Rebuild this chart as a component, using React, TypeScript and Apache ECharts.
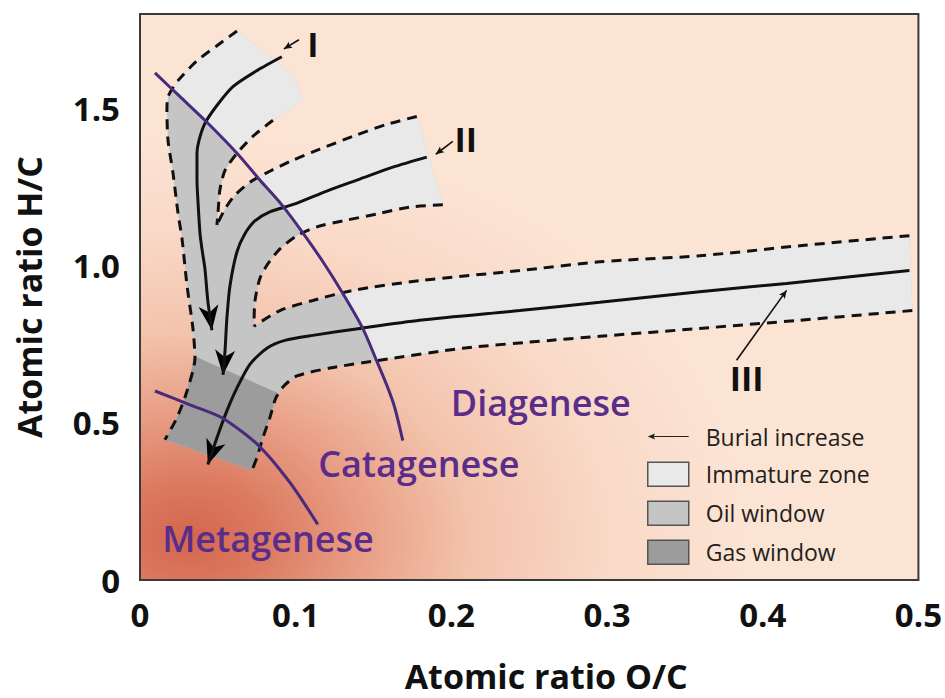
import React, { useEffect, useRef } from 'react';
import * as echarts from 'echarts';

type Pt = [number, number];

// ---------- axis ----------
const X_MIN = 0;
const X_MAX = 0.5;
const Y_MIN = 0;
const Y_MAX = 1.8;
const X_TICKS = [0, 0.1, 0.2, 0.3, 0.4, 0.5];
const Y_TICKS = [0, 0.5, 1.0, 1.5];

// ---------- evolution paths (centre lines, O/C vs H/C) ----------
const I_CENTER: Pt[] = [
  [0.0911, 1.664], [0.0751, 1.620], [0.0597, 1.569], [0.0494, 1.509], [0.0417, 1.452],
  [0.0379, 1.398], [0.0366, 1.357], [0.0366, 1.272], [0.0372, 1.208], [0.0385, 1.104],
  [0.0398, 1.053], [0.0417, 0.990], [0.0436, 0.886], [0.0462, 0.794],
];
const II_CENTER: Pt[] = [
  [0.1842, 1.345], [0.1624, 1.313], [0.1412, 1.275], [0.1200, 1.237], [0.0995, 1.196],
  [0.0834, 1.171], [0.0738, 1.142], [0.0674, 1.101], [0.0623, 1.044], [0.0578, 0.936],
  [0.0558, 0.832], [0.0546, 0.728], [0.0533, 0.652],
];
const III_CENTER: Pt[] = [
  [0.4942, 0.984], [0.4153, 0.943], [0.3594, 0.917], [0.2953, 0.883], [0.2439, 0.857],
  [0.1797, 0.826], [0.1412, 0.800], [0.1110, 0.778], [0.0931, 0.762], [0.0815, 0.737],
  [0.0706, 0.686], [0.0623, 0.611], [0.0558, 0.538], [0.0501, 0.462], [0.0436, 0.367],
];

// ---------- band borders (dashed) ----------
const I_OUTER: Pt[] = [
  [0.0623, 1.746], [0.0494, 1.699], [0.0366, 1.651], [0.0244, 1.588], [0.0180, 1.537],
  [0.0173, 1.493], [0.0180, 1.398], [0.0212, 1.294], [0.0244, 1.167], [0.0270, 1.085],
  [0.0302, 0.936], [0.0340, 0.800], [0.0353, 0.705], [0.0302, 0.601], [0.0237, 0.516],
  [0.0160, 0.446],
];
const I_INNER: Pt[] = [
  [0.0854, 1.462], [0.0725, 1.411], [0.0623, 1.357], [0.0546, 1.303], [0.0513, 1.240],
  [0.0501, 1.167], [0.0494, 1.129],
];
const I_CAP: Pt[] = [[0.1046, 1.525], [0.0982, 1.610]];
const II_UPPER: Pt[] = [
  [0.1778, 1.474], [0.1585, 1.449], [0.1367, 1.411], [0.1155, 1.370], [0.0982, 1.335],
  [0.0834, 1.300], [0.0706, 1.265], [0.0610, 1.224], [0.0546, 1.180], [0.0494, 1.129],
];
const II_LOWER: Pt[] = [
  [0.1945, 1.193], [0.1733, 1.186], [0.1521, 1.164], [0.1303, 1.142], [0.1136, 1.123],
  [0.1008, 1.095], [0.0899, 1.053], [0.0822, 1.006], [0.0770, 0.959], [0.0738, 0.886],
  [0.0732, 0.807],
];
const III_UPPER: Pt[] = [
  [0.4942, 1.095], [0.4236, 1.063], [0.3594, 1.031], [0.2953, 1.012], [0.2439, 0.984],
  [0.1797, 0.952], [0.1367, 0.921], [0.1110, 0.889], [0.0899, 0.857], [0.0732, 0.807],
];
const III_LOWER: Pt[] = [
  [0.4961, 0.857], [0.4236, 0.826], [0.3594, 0.800], [0.2953, 0.775], [0.2632, 0.762],
  [0.2073, 0.737], [0.1540, 0.699], [0.1220, 0.674], [0.1008, 0.649], [0.0924, 0.617],
  [0.0873, 0.579], [0.0834, 0.516], [0.0789, 0.452], [0.0751, 0.389], [0.0719, 0.348],
];

// ---------- maturity zones ----------
const IMMATURE_I: Pt[] = [
  [0.0623, 1.746], [0.0494, 1.699], [0.0366, 1.651], [0.0244, 1.588], [0.0212, 1.563],
  [0.0417, 1.462], [0.0623, 1.357], [0.0725, 1.411], [0.0854, 1.462], [0.1046, 1.525],
  [0.0982, 1.610],
];
const IMMATURE_II: Pt[] = [
  [0.1778, 1.474], [0.1585, 1.449], [0.1367, 1.411], [0.1155, 1.370], [0.0982, 1.335],
  [0.0834, 1.300], [0.0764, 1.281], [0.0911, 1.193], [0.1040, 1.107], [0.1136, 1.123],
  [0.1303, 1.142], [0.1521, 1.164], [0.1733, 1.186], [0.1945, 1.193],
];
const IMMATURE_III: Pt[] = [
  [0.4942, 1.095], [0.4236, 1.063], [0.3594, 1.031], [0.2953, 1.012], [0.2439, 0.984],
  [0.1797, 0.952], [0.1367, 0.921], [0.1303, 0.911], [0.1431, 0.800], [0.1521, 0.699],
  [0.2073, 0.737], [0.2632, 0.762], [0.2953, 0.775], [0.3594, 0.800], [0.4236, 0.826],
  [0.4961, 0.857],
];
const GAS_WINDOW: Pt[] = [
  [0.0347, 0.712], [0.0886, 0.595], [0.0873, 0.579], [0.0834, 0.516], [0.0789, 0.452],
  [0.0751, 0.389], [0.0719, 0.348], [0.0160, 0.446], [0.0237, 0.516], [0.0302, 0.601],
];

// ---------- stage boundaries ----------
const CATAGENESE: Pt[] = [
  [0.0096, 1.613], [0.0257, 1.537], [0.0417, 1.462], [0.0623, 1.357], [0.0770, 1.272],
  [0.0911, 1.193], [0.1046, 1.104], [0.1175, 1.012], [0.1303, 0.911], [0.1431, 0.800],
  [0.1521, 0.696], [0.1592, 0.611], [0.1637, 0.547], [0.1688, 0.443],
];
const METAGENESE: Pt[] = [
  [0.0096, 0.601], [0.0321, 0.557], [0.0526, 0.516], [0.0757, 0.430], [0.0963, 0.310],
  [0.1142, 0.177],
];

// ---------- annotations ----------
const STAGE_LABELS = ['Diagenese', 'Catagenese', 'Metagenese'];
const STAGE_ANCHORS: Pt[] = [[0.2574, 0.563], [0.1791, 0.370], [0.0822, 0.133]];
const TYPE_LABELS = ['I', 'II', 'III'];
const TYPE_ANCHORS: Pt[] = [[0.1110, 1.705], [0.2092, 1.401], [0.3896, 0.642]];
const TYPE_ARROWS: [Pt, Pt][] = [
  [[0.1021, 1.718], [0.0924, 1.689]],
  [[0.2009, 1.395], [0.1900, 1.354]],
  [[0.3832, 0.699], [0.4153, 0.921]],
];

const C_IMMATURE = '#e9e9ea';
const C_OIL = '#c5c5c6';
const C_GAS = '#9c9c9d';
const PURPLE_LINE = '#4a2a7a';
const PURPLE_TEXT = '#5a2d8a';
const FONT = '"Open Sans", "Noto Sans", sans-serif';

const rev = (a: Pt[]) => a.slice().reverse();
const UNION: Pt[] = [
  ...I_OUTER, ...rev(III_LOWER), ...III_UPPER, ...rev(II_LOWER), ...II_UPPER, ...rev(I_INNER), ...I_CAP,
];

function polySeries(name: string, polys: Pt[][], fill: string) {
  return {
    type: 'custom', name, silent: true, itemStyle: { color: fill },
    data: polys.map(() => [0, 0]),
    renderItem: (params: any, api: any) => ({
      type: 'polygon',
      shape: { points: polys[params.dataIndex].map((p) => api.coord(p)) },
      style: { fill },
    }),
  };
}

function lineSeries(name: string, data: Pt[], dashed: boolean, color = '#111', width = 3) {
  return {
    type: 'line', name, data, showSymbol: false, symbol: 'none', smooth: 0.25, silent: true,
    lineStyle: { color, width, type: dashed ? [10, 7] : 'solid', cap: 'butt' },
  };
}

function arrowHead(from: number[], to: number[], len: number, half: number, notch: number) {
  const dx = to[0] - from[0];
  const dy = to[1] - from[1];
  const l = Math.hypot(dx, dy) || 1;
  const ux = dx / l, uy = dy / l;
  const nx = -uy, ny = ux;
  const bx = to[0] - ux * len, by = to[1] - uy * len;
  const kx = to[0] - ux * len * notch, ky = to[1] - uy * len * notch;
  return [to, [bx + nx * half, by + ny * half], [kx, ky], [bx - nx * half, by - ny * half]];
}

export default function App() {
  const ref = useRef<HTMLDivElement>(null);
  useEffect(() => {
    if (!ref.current) return;
    const chart = echarts.init(ref.current, undefined, { renderer: 'svg' });
    const centers = [I_CENTER, II_CENTER, III_CENTER];
    const bg = new echarts.graphic.RadialGradient(0.064, 0.924, 0.72, [
      { offset: 0, color: '#d4664d' },
      { offset: 0.14, color: '#db7b61' },
      { offset: 0.3, color: '#e89d84' },
      { offset: 0.5, color: '#f3c3ac' },
      { offset: 0.75, color: '#f9d9c7' },
      { offset: 1, color: '#fce4d4' },
    ]);
    const fmt = (ticks: number[]) => (v: number) => {
      if (!ticks.some((t) => Math.abs(t - v) < 1e-6)) return '';
      return v === 0 ? '0' : v.toFixed(1);
    };
    const option: any = {
      animation: false,
      backgroundColor: '#ffffff',
      grid: { left: 140, right: 26, top: 14, bottom: 115, containLabel: false },
      xAxis: {
        type: 'value', min: X_MIN, max: X_MAX, interval: 0.1,
        axisLine: { show: false }, axisTick: { show: false }, splitLine: { show: false },
        axisLabel: { formatter: fmt(X_TICKS), fontSize: 33, fontWeight: 'bold', fontFamily: FONT, color: '#111', margin: 18 },
        name: 'Atomic ratio O/C', nameLocation: 'middle', nameGap: 79,
        nameTextStyle: { fontSize: 34, fontWeight: 'bold', fontFamily: FONT, color: '#111', padding: [0, 0, 0, 34] },
      },
      yAxis: {
        type: 'value', min: Y_MIN, max: Y_MAX, interval: 0.5,
        axisLine: { show: false }, axisTick: { show: false }, splitLine: { show: false },
        axisLabel: { formatter: fmt(Y_TICKS), fontSize: 33, fontWeight: 'bold', fontFamily: FONT, color: '#111', margin: 20 },
        name: 'Atomic ratio H/C', nameLocation: 'middle', nameGap: 94,
        nameTextStyle: { fontSize: 34, fontWeight: 'bold', fontFamily: FONT, color: '#111' },
      },
      legend: {
        left: 642, top: 420, orient: 'vertical', itemWidth: 41, itemHeight: 24, itemGap: 13.5,
        selectedMode: false,
        textStyle: { fontSize: 23, fontFamily: FONT, color: '#231f20', padding: [0, 0, 0, 12] },
        data: [
          { name: 'Burial increase', icon: 'path://M0,3L7,0L6,2.5L40,2.5L40,3.5L6,3.5L7,6Z', itemStyle: { color: '#222', borderWidth: 0 } },
          { name: 'Immature zone', icon: 'rect', itemStyle: { color: C_IMMATURE, borderColor: '#555', borderWidth: 1.5 } },
          { name: 'Oil window', icon: 'rect', itemStyle: { color: C_OIL, borderColor: '#555', borderWidth: 1.5 } },
          { name: 'Gas window', icon: 'rect', itemStyle: { color: C_GAS, borderColor: '#555', borderWidth: 1.5 } },
        ],
      },
      series: [
        {
          type: 'custom', name: 'background', silent: true, data: [[0, 0]],
          renderItem: (_p: any, api: any) => {
            const tl = api.coord([X_MIN, Y_MAX]);
            const br = api.coord([X_MAX, Y_MIN]);
            return {
              type: 'rect',
              shape: { x: tl[0], y: tl[1], width: br[0] - tl[0], height: br[1] - tl[1] },
              style: { fill: bg, stroke: '#3a3a3a', lineWidth: 2 },
            };
          },
        },
        polySeries('Oil window', [UNION], C_OIL),
        polySeries('Immature zone', [IMMATURE_I, IMMATURE_II, IMMATURE_III], C_IMMATURE),
        polySeries('Gas window', [GAS_WINDOW], C_GAS),
        lineSeries('I outer', I_OUTER, true),
        lineSeries('I inner', I_INNER, true),
        lineSeries('II upper', II_UPPER, true),
        lineSeries('II lower', II_LOWER, true),
        lineSeries('III upper', III_UPPER, true),
        lineSeries('III lower', III_LOWER, true),
        lineSeries('Burial increase', I_CENTER, false, '#111', 3),
        lineSeries('Burial increase', II_CENTER, false, '#111', 3),
        lineSeries('Burial increase', III_CENTER, false, '#111', 3),
        lineSeries('Catagenese', CATAGENESE, false, PURPLE_LINE, 3),
        lineSeries('Metagenese', METAGENESE, false, PURPLE_LINE, 3),
        {
          type: 'custom', name: 'arrowheads', silent: true, data: centers.map(() => [0, 0]),
          renderItem: (p: any, api: any) => {
            const c = centers[p.dataIndex];
            const a = api.coord(c[c.length - 2]);
            const b = api.coord(c[c.length - 1]);
            return { type: 'polygon', shape: { points: arrowHead(a, b, 25, 10, 0.72) }, style: { fill: '#000' } };
          },
        },
        {
          type: 'custom', name: 'type pointers', silent: true, data: TYPE_ARROWS.map(() => [0, 0]),
          renderItem: (p: any, api: any) => {
            const [f, t] = TYPE_ARROWS[p.dataIndex];
            const a = api.coord(f);
            const b = api.coord(t);
            return {
              type: 'group',
              children: [
                { type: 'line', shape: { x1: a[0], y1: a[1], x2: b[0], y2: b[1] }, style: { stroke: '#111', lineWidth: 1.6 } },
                { type: 'polygon', shape: { points: arrowHead(a, b, 8, 3.6, 0.8) }, style: { fill: '#111' } },
              ],
            };
          },
        },
        {
          type: 'custom', name: 'type labels', silent: true, data: TYPE_LABELS.map(() => [0, 0]),
          renderItem: (p: any, api: any) => {
            const c = api.coord(TYPE_ANCHORS[p.dataIndex]);
            return {
              type: 'text', x: c[0], y: c[1],
              style: { text: TYPE_LABELS[p.dataIndex], fill: '#111', fontSize: 34, fontWeight: 'bold', fontFamily: FONT, align: 'center', verticalAlign: 'middle' },
            };
          },
        },
        {
          type: 'custom', name: 'stage labels', silent: true, data: STAGE_LABELS.map(() => [0, 0]),
          renderItem: (p: any, api: any) => {
            const c = api.coord(STAGE_ANCHORS[p.dataIndex]);
            return {
              type: 'text', x: c[0], y: c[1],
              style: { text: STAGE_LABELS[p.dataIndex], fill: PURPLE_TEXT, fontSize: 36, fontWeight: 600, fontFamily: FONT, align: 'center', verticalAlign: 'middle' },
            };
          },
        },
      ],
    };
    chart.setOption(option);
    return () => chart.dispose();
  }, []);
  return <div ref={ref} style={{ width: 945, height: 698, position: 'absolute', left: 0, top: 0 }} />;
}
